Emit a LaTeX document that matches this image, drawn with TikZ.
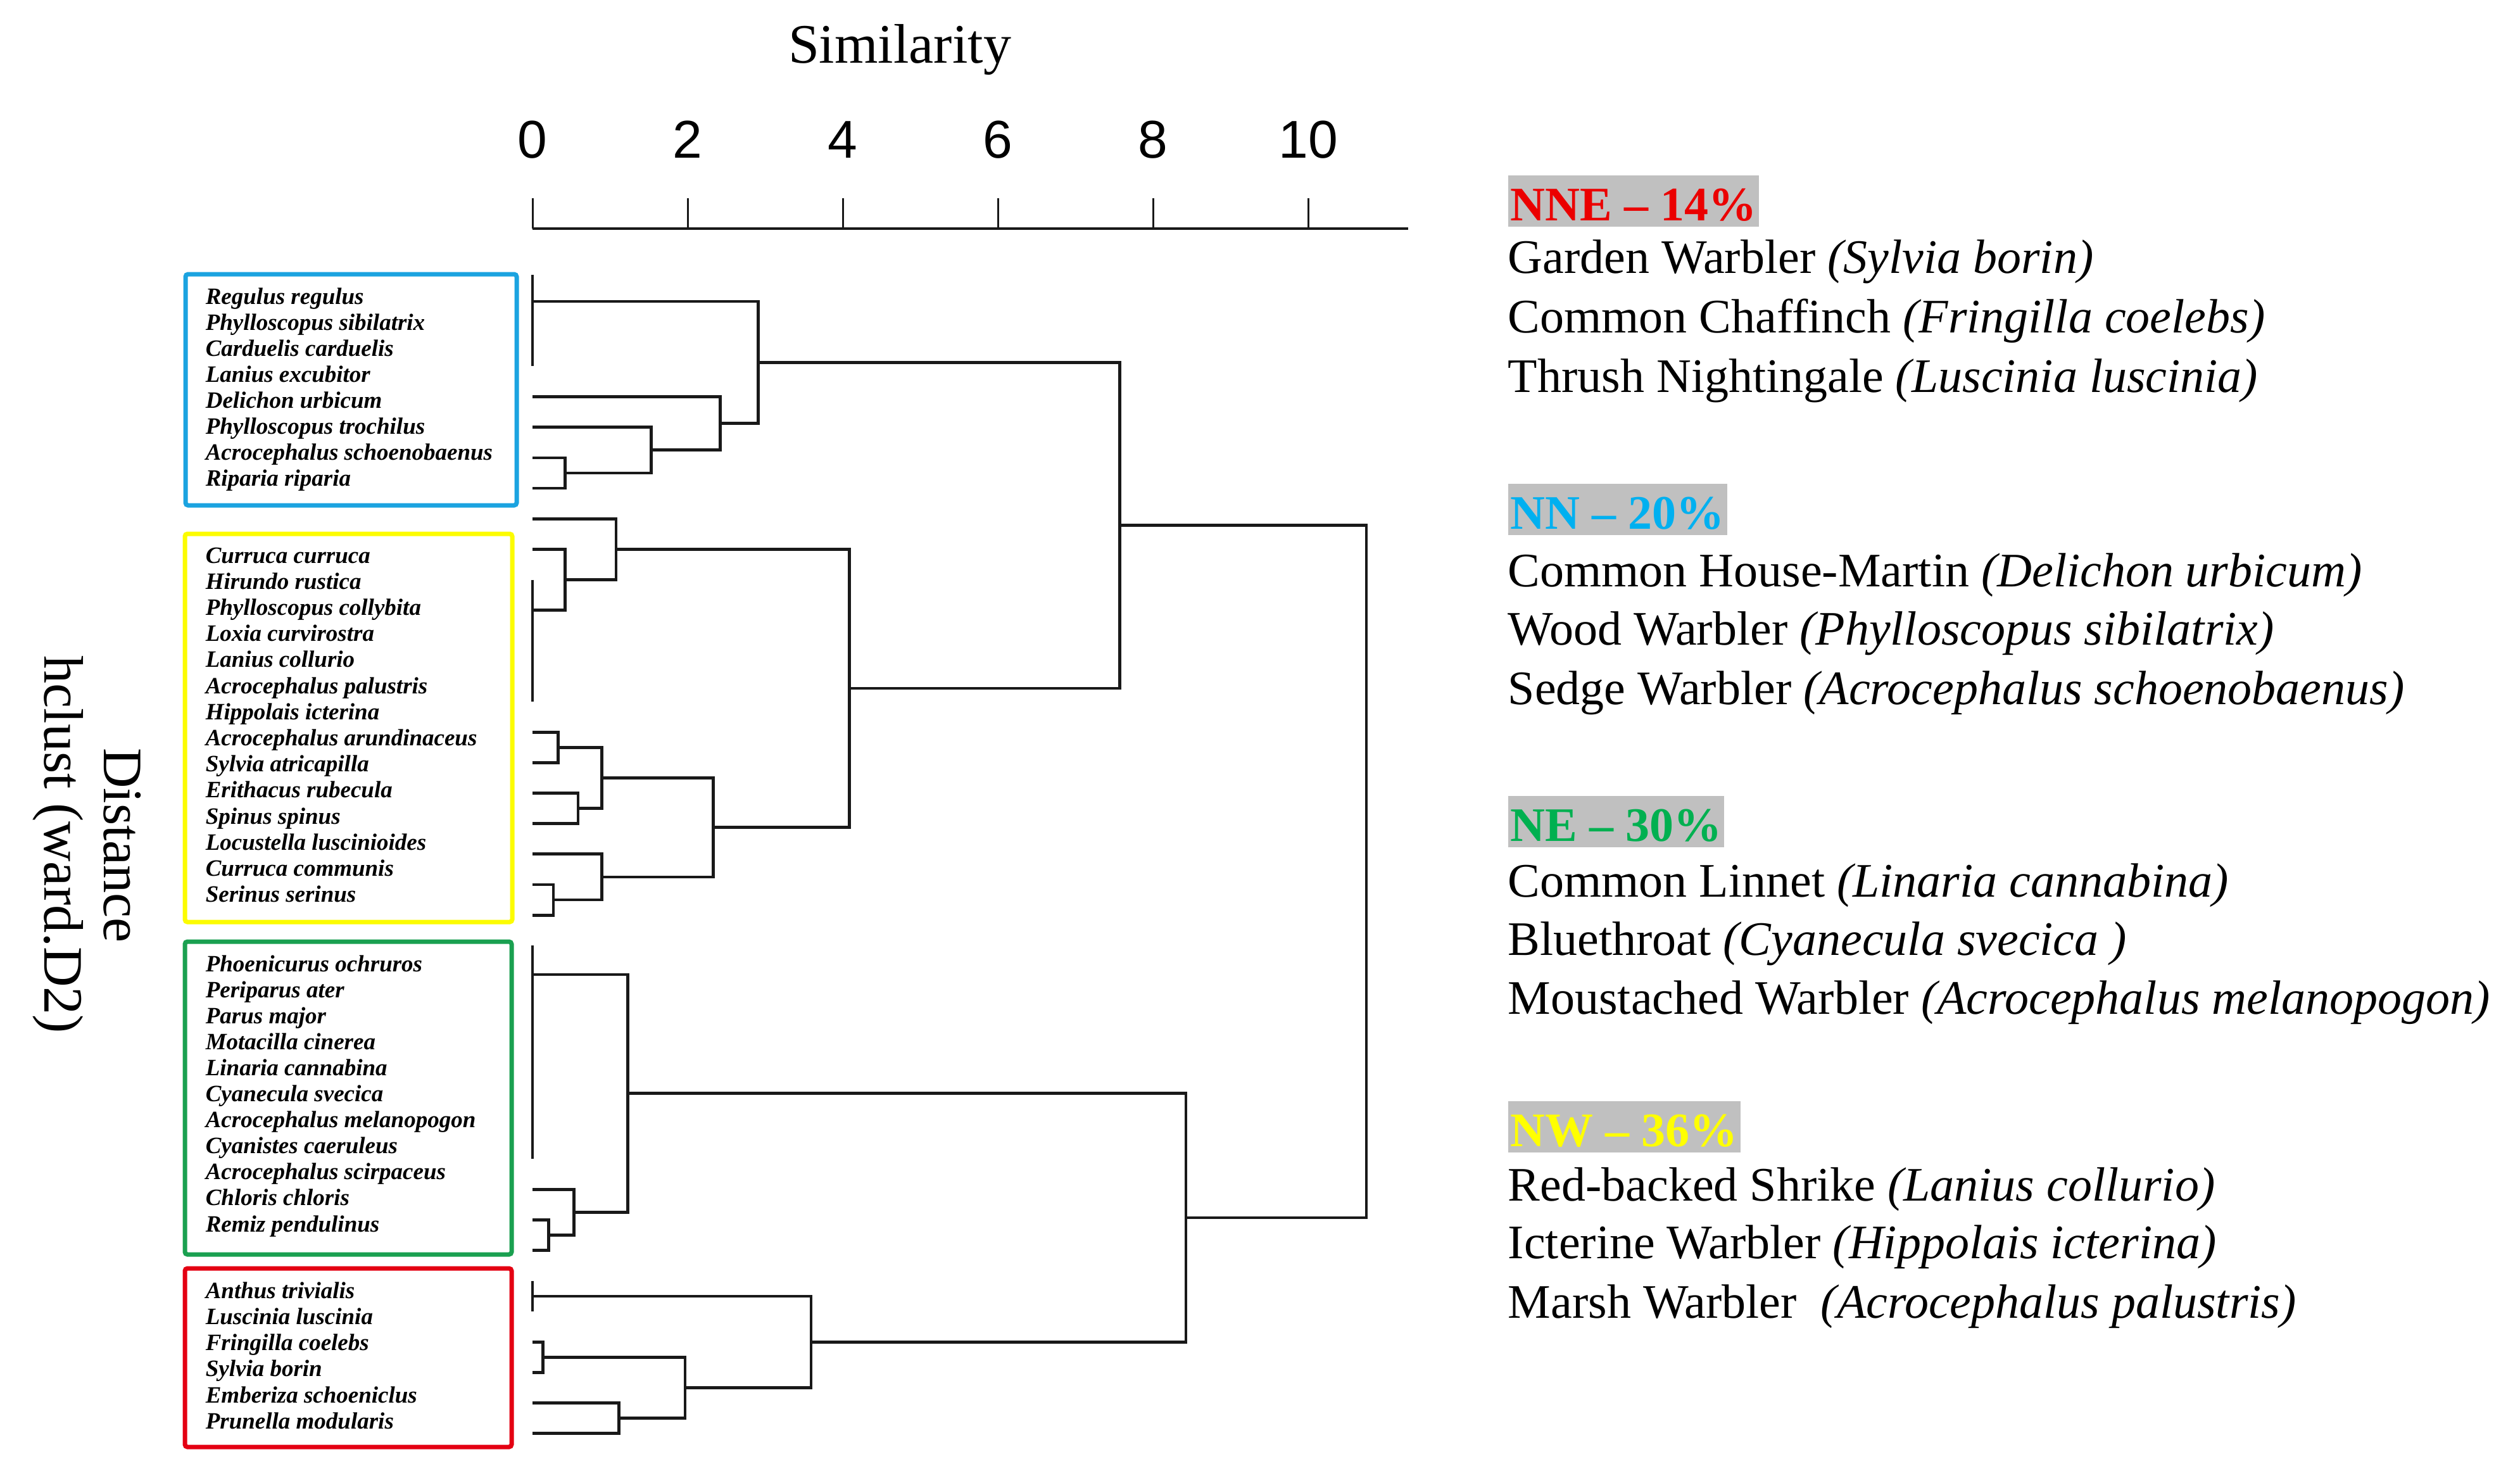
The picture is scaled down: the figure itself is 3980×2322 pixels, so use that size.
\documentclass[tikz,border=0pt]{standalone}
\usepackage{fontspec}
\setmainfont{Liberation Serif}
\newfontfamily\axisfont{Liberation Sans}
\definecolor{cblue}{RGB}{27,163,224}
\definecolor{cyel}{RGB}{252,252,0}
\definecolor{cgreen}{RGB}{26,160,80}
\definecolor{cred}{RGB}{228,0,18}
\definecolor{tred}{RGB}{235,0,0}
\definecolor{tblue}{RGB}{0,176,240}
\definecolor{tgreen}{RGB}{0,176,80}
\definecolor{tyel}{RGB}{255,255,0}
\definecolor{hlgray}{RGB}{192,192,192}
\begin{document}
\begin{tikzpicture}[x=0.25pt,y=-0.25pt,
  dend/.style={line width=1.2pt,black!90,line join=miter},
  axisln/.style={line width=1pt,black!90},
  tickln/.style={line width=0.75pt,black!90},
  sp/.style={anchor=base west,inner sep=0pt,font=\fontsize{9.25}{10}\selectfont\bfseries\itshape},
  leg/.style={anchor=base west,inner sep=0pt,font=\fontsize{19}{23}\selectfont},
  hdr/.style={anchor=base west,inner xsep=1pt,inner ysep=0pt,text height=17.75pt,text depth=2.5pt,fill=hlgray,font=\fontsize{19}{23}\selectfont\bfseries},
  ttl/.style={anchor=base,inner sep=0pt,font=\fontsize{22}{26}\selectfont},
  num/.style={anchor=base,inner sep=0pt,font=\axisfont\fontsize{21}{25}\selectfont},
  grpbox/.style={line width=1.75pt,rounded corners=1pt}]
\useasboundingbox (0,0) rectangle (3980,2322);
\fill[white] (0,0) rectangle (3980,2322);

% titles
\node[ttl] (title) at (1421,100) {Similarity};
\node[ttl,rotate=-90] (ylabA) at (164,1335) {Distance};
\node[ttl,rotate=-90] (ylabB) at (70,1334) {hclust (ward.D2)};

% axis
\coordinate (ax0) at (841,361);
\coordinate (ax1) at (2224,361);
\draw[axisln] (ax0) -- (ax1);
\foreach \k/\lab in {0/0,1/2,2/4,3/6,4/8,5/10}{
  \draw[tickln] ({841+245*\k},361) -- ({841+245*\k},313);
  \node[num] (tk\k) at ({841+245*\k},250) {\lab};
}

% group boxes
\draw[grpbox,cblue] (293,433) rectangle (816,798);
\draw[grpbox,cyel] (292,843) rectangle (809,1456);
\draw[grpbox,cgreen] (292,1487) rectangle (808,1981);
\draw[grpbox,cred] (292,2003) rectangle (808,2285);

% species labels
\foreach \s [count=\i from 0] in {Regulus regulus,Phylloscopus sibilatrix,Carduelis carduelis,Lanius excubitor,Delichon urbicum,Phylloscopus trochilus,Acrocephalus schoenobaenus,Riparia riparia}
  \node[sp] (sb\i) at (324,{480+41.1*\i}) {\s};
\foreach \s [count=\i from 0] in {Curruca curruca,Hirundo rustica,Phylloscopus collybita,Loxia curvirostra,Lanius collurio,Acrocephalus palustris,Hippolais icterina,Acrocephalus arundinaceus,Sylvia atricapilla,Erithacus rubecula,Spinus spinus,Locustella luscinioides,Curruca communis,Serinus serinus}
  \node[sp] (sy\i) at (324,{889+41.2*\i}) {\s};
\foreach \s [count=\i from 0] in {Phoenicurus ochruros,Periparus ater,Parus major,Motacilla cinerea,Linaria cannabina,Cyanecula svecica,Acrocephalus melanopogon,Cyanistes caeruleus,Acrocephalus scirpaceus,Chloris chloris,Remiz pendulinus}
  \node[sp] (sg\i) at (324,{1534+41.1*\i}) {\s};
\foreach \s [count=\i from 0] in {Anthus trivialis,Luscinia luscinia,Fringilla coelebs,Sylvia borin,Emberiza schoeniclus,Prunella modularis}
  \node[sp] (sr\i) at (324,{2050+41.3*\i}) {\s};

% dendrogram leaves
\foreach \i in {0,...,38}
  \coordinate (L\i) at (841,{434+48.15*\i});

% zero-height clusters
\coordinate (ZB) at (841,476);
\coordinate (ZY) at (841,963.65);
\coordinate (ZG) at (841,1539);
\coordinate (ZR) at (841,2047.03);
\draw[dend] (L0) -- (L3);
\draw[dend] (L10) -- (L14);
\draw[dend] (L22) -- (L29);
\draw[dend] (L33) -- (L34);

% merge points
\coordinate (b1) at (892.5,746.98);
\coordinate (b2) at (1028.5,710.86);
\coordinate (b3) at (1137.7,668.73);
\coordinate (b4) at (1197.8,572.37);
\coordinate (y1) at (892.5,915.5);
\coordinate (y2) at (973,867.35);
\coordinate (y3) at (881.4,1180.33);
\coordinate (y4) at (912.9,1276.63);
\coordinate (y5) at (950.8,1228.48);
\coordinate (y6) at (874,1421.08);
\coordinate (y7) at (950.8,1384.96);
\coordinate (y8) at (1126.5,1306.72);
\coordinate (y9) at (1341.2,1087.03);
\coordinate (by) at (1768.5,829.7);
\coordinate (g1) at (866.6,1950.73);
\coordinate (g2) at (906.4,1914.61);
\coordinate (g3) at (991.5,1726.8);
\coordinate (r1) at (857.4,2143.33);
\coordinate (r2) at (977.6,2239.63);
\coordinate (r3) at (1082,2191.48);
\coordinate (r4) at (1281,2119.25);
\coordinate (gr) at (1873,1923.03);
\coordinate (root) at (2158,1376.4);

\draw[dend] (L6) -| (b1) |- (L7);
\draw[dend] (L5) -| (b2) |- (b1);
\draw[dend] (L4) -| (b3) |- (b2);
\draw[dend] (ZB) -| (b4) |- (b3);
\draw[dend] (L9) -| (y1) |- (ZY);
\draw[dend] (L8) -| (y2) |- (y1);
\draw[dend] (L15) -| (y3) |- (L16);
\draw[dend] (L17) -| (y4) |- (L18);
\draw[dend] (y3) -| (y5) |- (y4);
\draw[dend] (L20) -| (y6) |- (L21);
\draw[dend] (L19) -| (y7) |- (y6);
\draw[dend] (y5) -| (y8) |- (y7);
\draw[dend] (y2) -| (y9) |- (y8);
\draw[dend] (b4) -| (by) |- (y9);
\draw[dend] (L31) -| (g1) |- (L32);
\draw[dend] (L30) -| (g2) |- (g1);
\draw[dend] (ZG) -| (g3) |- (g2);
\draw[dend] (L35) -| (r1) |- (L36);
\draw[dend] (L37) -| (r2) |- (L38);
\draw[dend] (r1) -| (r3) |- (r2);
\draw[dend] (ZR) -| (r4) |- (r3);
\draw[dend] (g3) -| (gr) |- (r4);
\draw[dend] (by) -| (root) |- (gr);

% legend
\node[hdr,text=tred] (hA) at (2381,348) {NNE – 14\%};
\node[leg] (a1) at (2381,431) {Garden Warbler \textit{(Sylvia borin)}};
\node[leg] (a2) at (2381,525) {Common Chaffinch \textit{(Fringilla coelebs)}};
\node[leg] (a3) at (2381,619) {Thrush Nightingale \textit{(Luscinia luscinia)}};

\node[hdr,text=tblue] (hB) at (2381,835) {NN – 20\%};
\node[leg] (b1t) at (2381,926) {Common House-Martin \textit{(Delichon urbicum)}};
\node[leg] (b2t) at (2381,1018) {Wood Warbler \textit{(Phylloscopus sibilatrix)}};
\node[leg] (b3t) at (2381,1112) {Sedge Warbler \textit{(Acrocephalus schoenobaenus)}};

\node[hdr,text=tgreen] (hC) at (2381,1328) {NE – 30\%};
\node[leg] (c1) at (2381,1416) {Common Linnet \textit{(Linaria cannabina)}};
\node[leg] (c2) at (2381,1508) {Bluethroat \textit{(Cyanecula svecica )}};
\node[leg] (c3) at (2381,1601) {Moustached Warbler \textit{(Acrocephalus melanopogon)}};

\node[hdr,text=tyel] (hD) at (2381,1810) {NW – 36\%};
\node[leg] (d1) at (2381,1896) {Red-backed Shrike \textit{(Lanius collurio)}};
\node[leg] (d2) at (2381,1987) {Icterine Warbler \textit{(Hippolais icterina)}};
\node[leg] (d3) at (2381,2081) {Marsh Warbler \ \textit{(Acrocephalus palustris)}};
\end{tikzpicture}
\end{document}
